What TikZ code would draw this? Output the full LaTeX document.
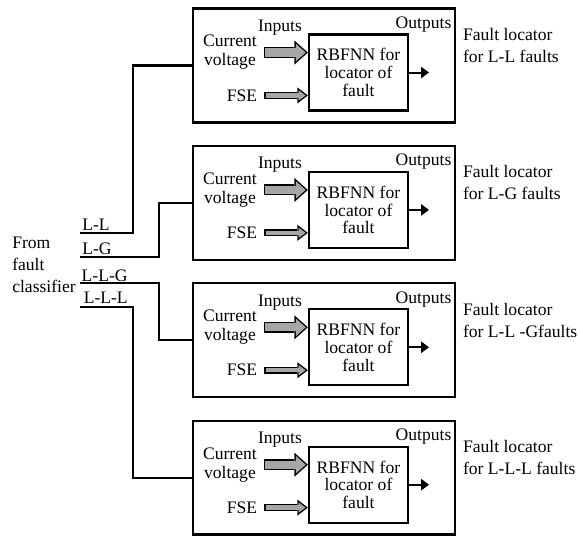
\documentclass[tikz,border=0pt]{standalone}
\usepackage{fontspec}
\setmainfont{Liberation Serif}
\usetikzlibrary{arrows.meta,positioning}
\tikzset{
  fbox/.style={rectangle,draw,line width=1.6pt,minimum width=186.4pt,
               minimum height=81pt,outer sep=0pt},
  rbox/.style={rectangle,draw,line width=1.6pt,minimum width=70.4pt,
               minimum height=54pt,align=center,inner sep=1pt,
               font=\fontsize{12.5}{12.6}\selectfont},
  lbl/.style={align=center,inner sep=2pt},
  wire/.style={line width=1.6pt},
  outarr/.style={-{Triangle[length=5.7pt,width=8pt]},line width=1.4pt},
  cvarr/.style={line width=7.8pt,shorten <=3pt,
                -{Triangle[length=9.5pt,width=17pt,line width=0pt]},
                postaction={draw=gray!70,line width=5.8pt,shorten <=4pt,shorten >=1.5pt,
                -{Triangle[length=7pt,width=12.5pt,line width=0pt]}}},
  fsearr/.style={line width=5pt,shorten <=3pt,
                -{Triangle[length=7.5pt,width=11.5pt,line width=0pt]},
                postaction={draw=gray!70,line width=3pt,shorten <=4pt,shorten >=1.6pt,
                -{Triangle[length=4.9pt,width=7.4pt,line width=0pt]}}},
}

\begin{document}
\begin{tikzpicture}[x=0.025cm,y=-0.025cm,node distance=16.7pt,
    font=\fontsize{12.5}{15.6}\selectfont]
  \useasboundingbox (0,0) rectangle (580,536);

  % --- locator for L-L ---
  \node[fbox] (box1) at (324,65.5) {};
  \node[rbox] (rbf1) at ([xshift=24.5pt,yshift=-5pt]box1.center) {RBFNN for\\locator of\\fault};
  \node[lbl,font=\fontsize{12.5}{13.5}\selectfont] (cv1) at ([xshift=-66.9pt,yshift=9.2pt]box1.center) {Current\\voltage};
  \node[lbl] (fse1) at ([xshift=-58.3pt,yshift=-21.3pt]box1.center) {FSE};
  \node[lbl] (in1) at ([xshift=-31.3pt,yshift=27pt]box1.center) {Inputs};
  \node[lbl] (op1) at ([xshift=70.8pt,yshift=29.2pt]box1.center) {Outputs};
  \node[lbl,align=left,right=3.5pt of box1.east,yshift=14.2pt] (fl1) {Fault locator\\for L-L faults};
  \coordinate[right=14.2pt of rbf1.east] (o1);
  \draw[cvarr] (cv1.east) -- (cv1.east -| rbf1.west);
  \draw[fsearr] (fse1.east) -- (fse1.east -| rbf1.west);
  \draw[outarr] (rbf1.east) -- (o1);

  % --- locator for L-G ---
  \node[fbox,below=of box1] (box2) {};
  \node[rbox] (rbf2) at ([xshift=24.5pt,yshift=-5pt]box2.center) {RBFNN for\\locator of\\fault};
  \node[lbl,font=\fontsize{12.5}{13.5}\selectfont] (cv2) at ([xshift=-66.9pt,yshift=9.2pt]box2.center) {Current\\voltage};
  \node[lbl] (fse2) at ([xshift=-58.3pt,yshift=-21.3pt]box2.center) {FSE};
  \node[lbl] (in2) at ([xshift=-31.3pt,yshift=27pt]box2.center) {Inputs};
  \node[lbl] (op2) at ([xshift=70.8pt,yshift=29.2pt]box2.center) {Outputs};
  \node[lbl,align=left,right=3.5pt of box2.east,yshift=14.2pt] (fl2) {Fault locator\\for L-G faults};
  \coordinate[right=14.2pt of rbf2.east] (o2);
  \draw[cvarr] (cv2.east) -- (cv2.east -| rbf2.west);
  \draw[fsearr] (fse2.east) -- (fse2.east -| rbf2.west);
  \draw[outarr] (rbf2.east) -- (o2);

  % --- locator for L-L-G ---
  \node[fbox,below=of box2] (box3) {};
  \node[rbox] (rbf3) at ([xshift=24.5pt,yshift=-5pt]box3.center) {RBFNN for\\locator of\\fault};
  \node[lbl,font=\fontsize{12.5}{13.5}\selectfont] (cv3) at ([xshift=-66.9pt,yshift=9.2pt]box3.center) {Current\\voltage};
  \node[lbl] (fse3) at ([xshift=-58.3pt,yshift=-21.3pt]box3.center) {FSE};
  \node[lbl] (in3) at ([xshift=-31.3pt,yshift=27pt]box3.center) {Inputs};
  \node[lbl] (op3) at ([xshift=70.8pt,yshift=29.2pt]box3.center) {Outputs};
  \node[lbl,align=left,right=3.5pt of box3.east,yshift=14.2pt] (fl3) {Fault locator\\for L-L -Gfaults};
  \coordinate[right=14.2pt of rbf3.east] (o3);
  \draw[cvarr] (cv3.east) -- (cv3.east -| rbf3.west);
  \draw[fsearr] (fse3.east) -- (fse3.east -| rbf3.west);
  \draw[outarr] (rbf3.east) -- (o3);

  % --- locator for L-L-L ---
  \node[fbox,below=of box3] (box4) {};
  \node[rbox] (rbf4) at ([xshift=24.5pt,yshift=-5pt]box4.center) {RBFNN for\\locator of\\fault};
  \node[lbl,font=\fontsize{12.5}{13.5}\selectfont] (cv4) at ([xshift=-66.9pt,yshift=9.2pt]box4.center) {Current\\voltage};
  \node[lbl] (fse4) at ([xshift=-58.3pt,yshift=-21.3pt]box4.center) {FSE};
  \node[lbl] (in4) at ([xshift=-31.3pt,yshift=27pt]box4.center) {Inputs};
  \node[lbl] (op4) at ([xshift=70.8pt,yshift=29.2pt]box4.center) {Outputs};
  \node[lbl,align=left,right=3.5pt of box4.east,yshift=14.2pt] (fl4) {Fault locator\\for L-L-L faults};
  \coordinate[right=14.2pt of rbf4.east] (o4);
  \draw[cvarr] (cv4.east) -- (cv4.east -| rbf4.west);
  \draw[fsearr] (fse4.east) -- (fse4.east -| rbf4.west);
  \draw[outarr] (rbf4.east) -- (o4);

  % --- fault classifier feeds ---
  \node[lbl,align=left] (src) at (44,265) {From\\fault\\classifier};
  \coordinate (w1) at (80,233);
  \coordinate (w2) at (80,257);
  \coordinate (w3) at (80,283);
  \coordinate (w4) at (80,307);
  \node[lbl,anchor=south west,inner sep=1.5pt] (ll) at (w1) {L-L};
  \node[lbl,anchor=south west,inner sep=1.5pt] (lg) at (w2) {L-G};
  \node[lbl,anchor=south west,inner sep=1pt] (llg) at (w3) {L-L-G};
  \node[lbl,anchor=south west,inner sep=2.5pt] (lll) at (w4) {L-L-L};
  \draw[wire] (w1) -- ++(53,0) |- (box1.west);
  \draw[wire] (w2) -- ++(79,0) |- (box2.west);
  \draw[wire] (w3) -- ++(79,0) |- (box3.west);
  \draw[wire] (w4) -- ++(53,0) |- (box4.west);
\end{tikzpicture}
\end{document}
